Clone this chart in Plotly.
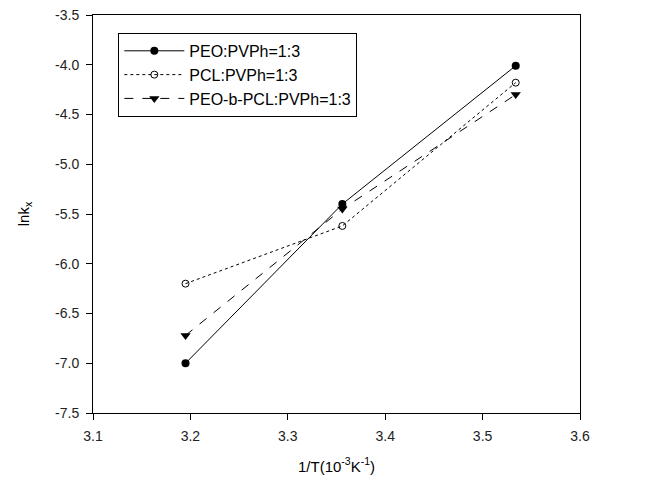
import plotly.graph_objects as go

x_vals = [3.195, 3.356, 3.534]
peo = [-7.0, -5.40, -4.01]
pcl = [-6.20, -5.62, -4.18]
peo_b_pcl = [-6.72, -5.45, -4.30]
names = ["PEO:PVPh=1:3", "PCL:PVPh=1:3", "PEO-b-PCL:PVPh=1:3"]

x_ticks = [3.1, 3.2, 3.3, 3.4, 3.5, 3.6]
x_tick_labels = ["3.1", "3.2", "3.3", "3.4", "3.5", "3.6"]
y_ticks = [-7.5, -7.0, -6.5, -6.0, -5.5, -5.0, -4.5, -4.0, -3.5]
y_tick_labels = ["-7.5", "-7.0", "-6.5", "-6.0", "-5.5", "-5.0", "-4.5", "-4.0", "-3.5"]

fig = go.Figure()
fig.add_trace(go.Scatter(x=x_vals, y=peo, name=names[0], mode="lines+markers",
                         line=dict(color="black", width=1, dash="solid"),
                         marker=dict(symbol="circle", size=8, color="black")))
fig.add_trace(go.Scatter(x=x_vals, y=pcl, name=names[1], mode="lines+markers",
                         line=dict(color="black", width=1, dash="dot"),
                         marker=dict(symbol="circle-open", size=7, color="black", line=dict(width=1))))
fig.add_trace(go.Scatter(x=x_vals, y=peo_b_pcl, name=names[2], mode="lines+markers",
                         line=dict(color="black", width=1, dash="dash"),
                         marker=dict(symbol="triangle-down", size=9, color="black")))

axis_common = dict(showgrid=False, zeroline=False, showline=True, linecolor="black", linewidth=1,
                   mirror=True, ticks="outside", ticklen=6, tickcolor="black", automargin=False,
                   tickfont=dict(family="Liberation Sans", size=14, color="#222"))

fig.update_layout(
    width=672, height=480,
    margin=dict(l=93, r=92, t=15, b=67),
    paper_bgcolor="white", plot_bgcolor="white",
    font=dict(family="Liberation Sans", color="black"),
    xaxis=dict(range=[3.1, 3.6], tickvals=x_ticks, ticktext=x_tick_labels, ticklabelstandoff=4,
               title=dict(text="1/T(10<sup>-3</sup>K<sup>-1</sup>)", font=dict(size=15), standoff=18),
               **axis_common),
    yaxis=dict(range=[-7.5, -3.5], tickvals=y_ticks, ticktext=y_tick_labels, ticklabelstandoff=4,
               title=dict(text="lnk<sub>x</sub>", font=dict(size=15), standoff=21),
               **axis_common),
    legend=dict(x=0.052, y=0.955, xanchor="left", yanchor="top",
                bordercolor="black", borderwidth=1, bgcolor="white", itemwidth=60,
                font=dict(size=16, family="Liberation Sans"), tracegroupgap=0),
    showlegend=True,
)

fig.write_html("out.html")
